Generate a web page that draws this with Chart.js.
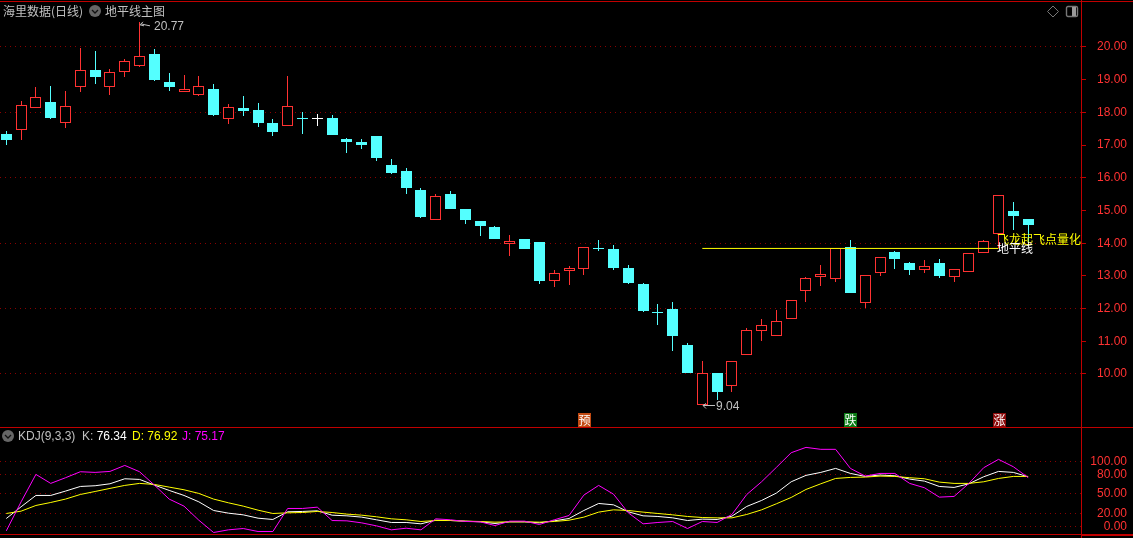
<!DOCTYPE html>
<html>
<head>
<meta charset="utf-8">
<title>地平线主图</title>
<script src="https://cdn.jsdelivr.net/npm/chart.js@4"></script>
<style>
  html, body { margin: 0; padding: 0; background: #000; overflow: hidden; }
  #page { position: relative; width: 1133px; height: 538px; background: #000; overflow: hidden;
    font-family: "Liberation Sans", "Noto Sans CJK SC", sans-serif; }
  canvas { position: absolute; left: 0; }
  #priceChart { top: 0; }
  #kdjChart { top: 427px; }
  .rule { position: absolute; background: #c00000; }
  .txt { position: absolute; white-space: nowrap; font-size: 12px; line-height: 14px; color: #c0c0c0; }
  .cjk { font-family: "Noto Sans CJK SC", sans-serif; }
  .icon { position: absolute; }
</style>
</head>
<body>
<div id="page">
  <canvas id="priceChart" width="1133" height="428"></canvas>
  <canvas id="kdjChart" width="1133" height="111"></canvas>

  <!-- panel frame -->
  <div class="rule" style="left:0;top:1px;width:1133px;height:1px"></div>
  <div class="rule" style="left:0;top:427px;width:1133px;height:1px"></div>
  <div class="rule" style="left:0;top:534px;width:1081px;height:1px"></div>
  <div class="rule" style="left:1081px;top:534px;width:52px;height:2px"></div>
  <div class="rule" style="left:1081px;top:0;width:1px;height:538px"></div>

  <!-- header -->
  <div class="txt cjk" style="left:3px;top:4px">海里数据(日线)</div>
  <svg class="icon" style="left:88px;top:4px" width="14" height="14">
    <circle cx="7" cy="7" r="6" fill="#666"/><path d="M4 6 L7 9 L10 6" fill="none" stroke="#111" stroke-width="1.3"/>
  </svg>
  <div class="txt cjk" style="left:105px;top:4px">地平线主图</div>
  <svg class="icon" style="left:1046px;top:5px" width="14" height="14">
    <path d="M7 1 L12.5 6.5 L7 12 L1.5 6.5 Z" fill="none" stroke="#777"/>
  </svg>
  <svg class="icon" style="left:1065px;top:5px" width="15" height="14">
    <rect x="1.5" y="1.5" width="11" height="10" rx="1.5" fill="none" stroke="#777" stroke-width="1.4"/><rect x="7" y="2" width="4" height="9" fill="#999"/>
  </svg>

  <!-- KDJ legend -->
  <svg class="icon" style="left:1px;top:429px" width="14" height="14">
    <circle cx="7" cy="7" r="6" fill="#666"/><path d="M4 6 L7 9 L10 6" fill="none" stroke="#111" stroke-width="1.3"/>
  </svg>
  <div class="txt" style="left:18px;top:429px">KDJ(9,3,3)</div>
  <div class="txt" style="left:82px;top:429px;color:#fff"><span style="color:#c0c0c0">K:</span> 76.34</div>
  <div class="txt" style="left:132px;top:429px;color:#ffff00">D: 76.92</div>
  <div class="txt" style="left:182px;top:429px;color:#ff00ff">J: 75.17</div>
</div>

<script>
// 日线 K线
const opens = [17.34,17.47,18.14,18.32,17.69,18.79,19.30,18.79,19.24,19.43,19.79,18.93,18.63,18.53,18.72,17.81,18.13,18.07,17.68,17.59,
  17.81,17.80,17.83,17.19,17.09,17.28,16.39,16.21,15.63,14.71,15.50,15.05,14.68,14.50,13.98,14.13,14.04,12.85,13.16,13.22,
  13.85,13.82,13.24,12.75,11.90,11.99,10.89,9.06,10.03,9.64,10.59,11.32,11.17,11.69,12.55,12.98,12.91,13.88,12.18,13.10,
  13.73,13.39,13.19,13.39,12.98,13.13,13.71,14.27,14.98,14.74];
const highs = [17.43,18.35,18.77,18.81,18.65,19.97,19.88,19.32,19.62,20.77,19.94,19.20,19.14,19.11,18.87,18.26,18.50,18.29,17.80,19.11,
  18.01,17.95,17.92,17.22,17.18,17.28,16.57,16.30,15.69,15.50,15.60,15.05,14.68,14.53,14.25,14.13,14.04,13.18,13.30,13.87,
  14.10,13.94,13.33,12.78,12.14,12.20,10.95,10.40,10.03,10.39,11.41,11.68,11.96,12.25,12.97,13.33,13.84,14.10,13.02,13.57,
  13.76,13.42,13.49,13.52,13.20,13.69,14.10,15.46,15.26,14.74];
const lows = [17.00,17.16,18.14,17.80,17.52,18.63,18.87,18.53,19.08,19.39,18.96,18.65,18.63,18.50,17.89,17.65,17.89,17.55,17.28,17.59,
  17.34,17.58,17.31,16.76,16.88,16.51,16.12,15.50,14.77,14.71,15.05,14.59,14.22,14.13,13.61,13.82,12.75,12.66,12.72,13.03,
  13.76,13.18,12.75,11.90,11.50,10.70,10.03,9.04,9.20,9.45,10.59,11.01,11.17,11.69,12.21,12.69,12.81,12.48,12.02,13.00,
  13.21,13.03,13.09,12.94,12.81,13.13,13.71,13.85,14.40,14.00];
const closes = [17.16,18.22,18.46,17.83,18.19,19.29,19.08,19.23,19.56,19.72,18.99,18.78,18.72,18.80,17.92,18.16,18.04,17.68,17.40,18.19,
  17.79,17.80,17.31,17.09,17.00,16.61,16.15,15.69,14.80,15.44,15.05,14.71,14.53,14.13,14.07,13.82,12.84,13.08,13.23,13.87,
  13.83,13.24,12.78,11.93,11.88,11.16,10.03,10.02,9.45,10.39,11.34,11.49,11.61,12.25,12.93,13.05,13.84,12.48,13.02,13.57,
  13.52,13.18,13.29,13.00,13.20,13.69,14.06,15.46,14.83,14.56];

// KDJ(9,3,3)
const kValues = [12.3,30.3,47.7,47.7,54.4,61.5,62.6,65.6,73.3,72.3,63.6,55.4,47.7,37.9,24.6,20.5,17.9,12.8,10.8,22.6,23.1,24.1,17.4,16.4,14.4,10.3,
  6.2,6.2,4.1,9.7,9.2,8.2,7.2,4.6,7.2,7.2,5.6,8.7,12.3,24.6,35.4,33.3,22.6,16.4,15.4,13.3,9.2,11.3,10.8,15.9,
  30.8,40.0,51.3,68.7,78.5,83.1,89.2,81.5,76.9,79.0,77.9,72.8,69.7,61.5,60.0,65.6,76.4,84.6,83.1,76.34];
const dValues = [20.0,23.6,32.3,36.9,42.1,49.2,53.8,58.5,63.1,66.2,64.6,60.5,56.4,50.8,42.1,36.4,31.3,25.1,20.0,21.0,21.5,23.1,21.5,19.0,17.4,14.9,
  11.8,10.3,7.7,9.2,9.2,8.2,7.7,6.7,7.2,7.2,6.7,7.7,9.7,14.4,22.1,25.6,24.6,22.1,20.0,17.9,15.4,13.8,13.3,13.3,
  18.5,25.6,34.9,44.6,56.9,65.6,73.8,75.4,75.9,77.4,76.9,74.9,73.3,68.2,66.2,66.2,68.7,73.8,76.9,76.92];
const jValues = [-6.7,37.9,80.0,66.2,74.9,84.1,83.1,84.6,93.8,84.1,63.6,42.1,31.3,9.7,-9.2,-5.1,-3.1,-7.7,-7.7,27.7,27.7,29.7,9.2,8.7,5.6,1.0,
  -5.1,-2.6,-5.1,11.8,10.3,7.7,7.2,1.5,8.2,8.2,3.1,10.3,16.9,48.2,63.1,49.7,21.0,4.1,6.2,7.7,-3.1,7.7,6.2,18.5,
  49.2,68.7,90.8,113.3,121.5,118.5,118.5,89.2,77.4,81.5,81.5,66.2,59.5,45.1,46.2,66.2,90.3,103.1,91.8,75.17];

const priceTicks = [10,11,12,13,14,15,16,17,18,19,20];
const priceGridTicks = [10,12,14,16,18,20];
const kdjTicks = [0,20,50,80,100];

// 地平线 from candle 47 to 67
const horizonStart = 47, horizonEnd = 67, horizonPrice = 13.84;
const highIndex = 9, lowIndex = 47;
const tagIndexes = [39, 57, 67];
const tagLabels = ['预', '跌', '涨'];
const tagColors = ['#c24a12', '#0a7a14', '#8a0a0a'];

const RED = '#ff3232', CYAN = '#54ffff', WHITE = '#ffffff';
const indexes = closes.map((_, i) => i);

function candleColor(i) {
  if (closes[i] === opens[i]) return WHITE;
  return closes[i] > opens[i] ? RED : CYAN;
}

const xScale = { type: 'linear', offset: false, min: -0.425, max: 72.57, display: false };

// right axis: 46px wide, labels end 6px short of the window edge
function fitAxis(s) {
  s.width = 46;
  s.paddingTop = 0;
  s.paddingBottom = 0;
}

// bars get snapped to whole pixels so the hollow candles stay crisp
const snapBars = {
  id: 'snapBars',
  afterDatasetsUpdate(chart) {
    chart.data.datasets.forEach((ds, n) => {
      if (ds.type !== 'bar') return;
      chart.getDatasetMeta(n).data.forEach(el => {
        el.x = Math.round(el.x - 0.5) + 0.5;
        el.y = Math.round(el.y);
        el.base = Math.round(el.base);
        if (el.y === el.base) el.base += 1;
      });
    });
  }
};

// 最高/最低 marks, tags and the labels at the end of the horizon line
const notes = {
  id: 'notes',
  afterDatasetsDraw(chart) {
    const { ctx, scales: { x, y } } = chart;
    ctx.save();
    ctx.textBaseline = 'middle';
    ctx.textAlign = 'left';
    ctx.font = '12px "Liberation Sans"';
    ctx.fillStyle = '#c0c0c0';
    ctx.strokeStyle = '#c0c0c0';
    ctx.lineWidth = 1;

    const hx = Math.round(x.getPixelForValue(highIndex)), hy = y.getPixelForValue(highs[highIndex]);
    ctx.beginPath();
    ctx.moveTo(hx, hy + 3); ctx.lineTo(hx + 3, hy);
    ctx.moveTo(hx, hy + 3); ctx.lineTo(hx + 4, hy + 4);
    ctx.moveTo(hx + 1, hy + 2); ctx.lineTo(hx + 5, hy + 3); ctx.lineTo(hx + 10, hy + 4);
    ctx.stroke();
    ctx.fillText(highs[highIndex].toFixed(2), hx + 14, hy + 5);

    const lx = Math.round(x.getPixelForValue(lowIndex)), ly = Math.round(y.getPixelForValue(lows[lowIndex])) + 0.5;
    ctx.beginPath();
    ctx.moveTo(lx + 1, ly); ctx.lineTo(lx + 13, ly);
    ctx.moveTo(lx + 1, ly); ctx.lineTo(lx + 4, ly - 2);
    ctx.moveTo(lx + 1, ly); ctx.lineTo(lx + 4, ly + 3);
    ctx.stroke();
    ctx.fillText(lows[lowIndex].toFixed(2), lx + 14, ly + 1.5);

    ctx.font = '12px "Noto Sans CJK SC"';
    ctx.textAlign = 'center';
    tagIndexes.forEach((idx, n) => {
      const cx = Math.round(x.getPixelForValue(idx));
      ctx.fillStyle = tagColors[n];
      ctx.fillRect(cx - 6, 413, 13, 14);
      ctx.fillStyle = '#fff';
      ctx.fillText(tagLabels[n], cx + 0.5, 420);
    });

    const ex = Math.round(x.getPixelForValue(horizonEnd)) - 2, ey = y.getPixelForValue(horizonPrice);
    ctx.textAlign = 'left';
    ctx.fillStyle = '#ffff00';
    ctx.fillText('飞龙起飞点量化', ex, ey - 9);
    ctx.fillStyle = '#ffffff';
    ctx.fillText('地平线', ex, ey);
    ctx.restore();
  }
};

new Chart(document.getElementById('priceChart'), {
  type: 'bar',
  data: {
    datasets: [
      {
        type: 'line',
        label: '地平线',
        data: [{ x: horizonStart, y: horizonPrice }, { x: horizonEnd, y: horizonPrice }],
        borderColor: '#ffff00',
        borderWidth: 1,
        pointRadius: 0,
        order: 0
      },
      {
        type: 'bar',
        label: 'body',
        data: indexes.map(i => ({ x: i, y: [opens[i], closes[i]] })),
        backgroundColor: indexes.map(i => closes[i] > opens[i] ? '#000000' : candleColor(i)),
        borderColor: indexes.map(candleColor),
        borderWidth: 1,
        borderSkipped: false,
        inflateAmount: 0,
        barThickness: 11,
        minBarLength: 1,
        grouped: false,
        order: 1
      },
      {
        type: 'bar',
        label: 'wick',
        data: indexes.map(i => ({ x: i, y: [lows[i], highs[i]] })),
        backgroundColor: indexes.map(candleColor),
        borderWidth: 0,
        inflateAmount: 0,
        barThickness: 1,
        grouped: false,
        order: 2
      }
    ]
  },
  options: {
    responsive: false,
    animation: false,
    devicePixelRatio: 1,
    layout: { padding: { top: 2, bottom: 1, right: 6 } },
    plugins: { legend: { display: false }, tooltip: { enabled: false } },
    scales: {
      x: xScale,
      y: {
        position: 'right',
        min: 8.379,
        max: 21.376,
        afterFit: fitAxis,
        afterBuildTicks: s => { s.ticks = priceTicks.map(v => ({ value: v })); },
        border: { display: false, dash: [1, 4] },
        grid: {
          color: c => priceGridTicks.includes(c.tick && c.tick.value) ? '#8a0000' : 'transparent',
          tickColor: '#c00000',
          tickLength: 5,
          tickBorderDash: []
        },
        ticks: {
          color: RED,
          font: { family: '"Liberation Sans"', size: 12 },
          padding: 0,
          crossAlign: 'far',
          autoSkip: false,
          maxRotation: 0,
          callback: v => v.toFixed(2)
        }
      }
    }
  },
  plugins: [snapBars, notes]
});

const kdjLine = (label, values, color, order) => ({
  label,
  data: indexes.map(i => ({ x: i, y: values[i] })),
  borderColor: color,
  borderWidth: 1,
  pointRadius: 0,
  tension: 0,
  order
});

new Chart(document.getElementById('kdjChart'), {
  type: 'line',
  data: {
    datasets: [
      kdjLine('J', jValues, '#ff00ff', 0),
      kdjLine('D', dValues, '#ffff00', 1),
      kdjLine('K', kValues, '#ffffff', 2)
    ]
  },
  options: {
    responsive: false,
    animation: false,
    devicePixelRatio: 1,
    layout: { padding: { bottom: 4, right: 6 } },
    plugins: { legend: { display: false }, tooltip: { enabled: false } },
    scales: {
      x: xScale,
      y: {
        position: 'right',
        min: -11.5,
        max: 152.8,
        afterFit: fitAxis,
        afterBuildTicks: s => { s.ticks = kdjTicks.map(v => ({ value: v })); },
        border: { display: false, dash: [1, 4] },
        grid: { color: '#8a0000', drawTicks: false, tickLength: 5 },
        ticks: {
          color: RED,
          font: { family: '"Liberation Sans"', size: 12 },
          padding: 0,
          crossAlign: 'far',
          autoSkip: false,
          maxRotation: 0,
          callback: v => v.toFixed(2)
        }
      }
    }
  }
});
</script>
</body>
</html>
